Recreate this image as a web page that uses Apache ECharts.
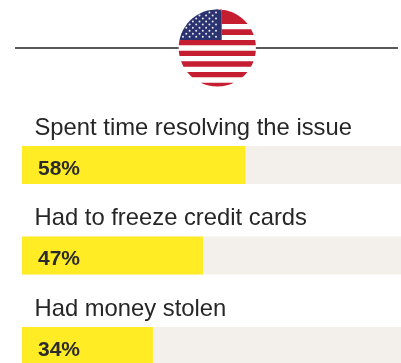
<!DOCTYPE html>
<html>
<head>
<meta charset="utf-8">
<style>html,body{margin:0;padding:0;background:#fff}#chart{width:401px;height:363px}</style>
<script src="https://cdn.jsdelivr.net/npm/echarts@6/dist/echarts.min.js"></script>
</head>
<body>
<div id="chart"></div>
<script>
const categories = ['Spent time resolving the issue', 'Had to freeze credit cards', 'Had money stolen'];
const shares = [58, 47, 34];
const fullScale = [100, 100, 100];

const FONT = 'Liberation Sans, Arial, Helvetica, sans-serif';
const RED = '#c41e30', NAVY = '#2a3270', WHITE = '#ffffff';

// Round flag badge: centre and radius of the disc
const cx = 217.3, cy = 47.9, r = 38.6;

// Part of the disc between two horizontal lines, and left/right limits, as a polygon
function discSlice(y0, y1, xMin, xMax) {
  const pts = [];
  const steps = 24;
  for (let i = 0; i <= steps; i++) {
    const y = y0 + (y1 - y0) * i / steps;
    const h = Math.sqrt(Math.max(0, r * r - (y - cy) * (y - cy)));
    pts.push([Math.min(cx + h, xMax), y]);
  }
  for (let i = steps; i >= 0; i--) {
    const y = y0 + (y1 - y0) * i / steps;
    const h = Math.sqrt(Math.max(0, r * r - (y - cy) * (y - cy)));
    pts.push([Math.max(cx - h, xMin), y]);
  }
  return pts;
}

function flagElements() {
  const els = [];
  const add = (points, fill) => els.push({
    type: 'polygon', silent: true, shape: { points }, style: { fill }
  });
  // White disc, then the red stripes
  add(discSlice(cy - r, cy + r, 0, 999), WHITE);
  const stripeH = 5.33, cantonBottom = 40, cantonRight = 221.7;
  add(discSlice(cy - r, 24, cantonRight, 999), RED);
  add(discSlice(29.3, 35, cantonRight, 999), RED);
  for (let i = 0; i < 7; i++) {
    const top = cantonBottom + i * 2 * stripeH;
    add(discSlice(top, Math.min(top + stripeH, cy + r), 0, 999), RED);
  }
  add(discSlice(cy - r, cantonBottom, 0, cantonRight), NAVY);
  // Stars as small dots, staggered rows
  for (let row = 0; row < 9; row++) {
    const y = 12.4 + row * 3.05;
    const odd = row % 2 === 1;
    const count = odd ? 5 : 6;
    for (let c = 0; c < count; c++) {
      const x = (odd ? 186.3 : 183.0) + c * 6.6;
      const dx = x - cx, dy = y - cy;
      if (dx * dx + dy * dy < (r - 1.5) * (r - 1.5) && x < cantonRight) {
        els.push({
          type: 'circle', silent: true,
          shape: { cx: x, cy: y, r: 1.0 },
          style: { fill: '#e8eaf2' }
        });
      }
    }
  }
  return els;
}

const chart = echarts.init(document.getElementById('chart'), null, { renderer: 'canvas' });
chart.setOption({
  animation: false,
  backgroundColor: '#ffffff',
  // Rows sit 90.5px apart; the last one runs past the bottom edge
  grid: { left: 22, top: 119.75, width: 385, height: 271.5, containLabel: false, outerBoundsMode: 'none' },
  xAxis: { type: 'value', min: 0, max: 100, show: false },
  yAxis: { type: 'category', data: categories, inverse: true, show: false },
  graphic: {
    elements: [
      {
        type: 'line', silent: true,
        shape: { x1: 15, y1: 48, x2: 398, y2: 48 },
        style: { stroke: '#222222', lineWidth: 1.5 }
      },
      ...flagElements()
    ]
  },
  series: [
    {
      name: 'Track',
      type: 'bar',
      data: fullScale,
      barWidth: 38,
      barGap: '-100%',
      silent: true,
      itemStyle: { color: '#f3efea' },
      label: {
        show: true,
        position: 'insideTopLeft',
        distance: 0,
        offset: [12.5, -30],
        formatter: p => p.name,
        fontFamily: FONT,
        fontSize: 23.8,
        color: '#262626'
      }
    },
    {
      name: 'Share',
      type: 'bar',
      data: shares,
      barWidth: 38,
      silent: true,
      itemStyle: { color: '#ffec24' },
      label: {
        show: true,
        position: 'insideLeft',
        distance: 0,
        offset: [16, 4],
        formatter: p => p.value + '%',
        fontFamily: FONT,
        fontWeight: 'bold',
        fontSize: 21,
        color: '#2b2b2b'
      }
    }
  ]
});
</script>
</body>
</html>
